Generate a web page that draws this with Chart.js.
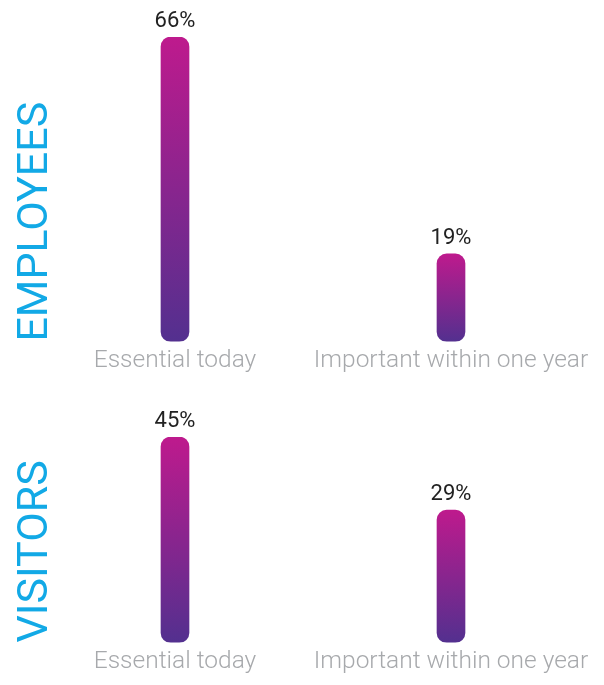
<!DOCTYPE html>
<html>
<head>
<meta charset="utf-8">
<script src="https://cdn.jsdelivr.net/npm/chart.js@4/dist/chart.umd.min.js"></script>
<style>
  html, body { margin: 0; padding: 0; background: #ffffff; }
  canvas { display: block; }
</style>
</head>
<body>
<canvas id="employees" width="604" height="385"></canvas>
<canvas id="visitors" width="604" height="300"></canvas>
<script>
const categories = ["Essential today", "Important within one year"]
const employeesValues = [66, 19]
const visitorsValues = [45, 29]
const panelTitles = ["EMPLOYEES", "VISITORS"]

const topColor = "#be1a8d"
const bottomColor = "#53308f"
const titleColor = "#12a9e6"
const labelColor = "#a7a9ac"

function barGradient(context) {
    const chart = context.chart
    if (!chart.chartArea || context.type !== "data") return topColor
    const y = chart.scales.y
    const top = y.getPixelForValue(context.raw)
    const bottom = y.getPixelForValue(0)
    const g = chart.ctx.createLinearGradient(0, top, 0, bottom)
    g.addColorStop(0, topColor)
    g.addColorStop(1, bottomColor)
    return g
}

const valueLabels = {
    id: "valueLabels",
    afterDatasetsDraw(chart) {
        const ctx = chart.ctx
        const meta = chart.getDatasetMeta(0)
        ctx.save()
        ctx.font = "22px Roboto"
        ctx.fillStyle = "#222222"
        ctx.textAlign = "center"
        ctx.textBaseline = "alphabetic"
        meta.data.forEach((bar, i) => {
            ctx.fillText(chart.data.datasets[0].data[i] + "%", bar.x, bar.y - 10)
        })
        ctx.restore()
    }
}

function makeChart(id, title, values, padding) {
    return new Chart(document.getElementById(id), {
        type: "bar",
        data: {
            labels: categories,
            datasets: [{
                data: values,
                backgroundColor: barGradient,
                barThickness: 28,
                borderRadius: 10,
                borderSkipped: false,
            }]
        },
        options: {
            responsive: false,
            animation: false,
            layout: { padding: padding },
            plugins: {
                legend: { display: false },
                tooltip: { enabled: false },
            },
            scales: {
                x: {
                    grid: { display: false, drawTicks: false },
                    border: { display: false },
                    ticks: {
                        color: labelColor,
                        font: { family: "Roboto", size: 24.5, weight: 300 },
                        padding: 5,
                        maxRotation: 0,
                        autoSkip: false,
                    },
                },
                y: {
                    min: 0,
                    max: Math.max(...values),
                    grid: { display: false, drawTicks: false },
                    border: { display: false },
                    ticks: { display: false },
                    title: {
                        display: true,
                        text: title,
                        align: "start",
                        color: titleColor,
                        font: { family: "Roboto", size: 43, weight: 400, lineHeight: "2px" },
                        padding: { top: 35, bottom: 0 },
                    },
                },
            },
        },
        plugins: [valueLabels],
    })
}

makeChart("employees", panelTitles[0], employeesValues, { top: 37, right: 15, bottom: 4, left: 0 })
makeChart("visitors", panelTitles[1], visitorsValues, { top: 52, right: 15, bottom: 3, left: 0 })
</script>
</body>
</html>
